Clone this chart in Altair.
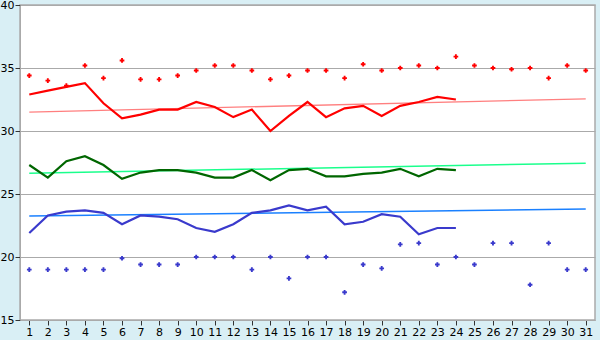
import altair as alt
import pandas as pd

days = list(range(1, 32))
red_points = [34.4, 34.0, 33.6, 35.2, 34.2, 35.6, 34.1, 34.1, 34.4, 34.8,
              35.2, 35.2, 34.8, 34.1, 34.4, 34.8, 34.8, 34.2, 35.3, 34.8,
              35.0, 35.2, 35.0, 35.9, 35.2, 35.0, 34.9, 35.0, 34.2, 35.2, 34.8]
red_line = [32.9, 33.2, 33.5, 33.8, 32.2, 31.0, 31.3, 31.7, 31.7, 32.3,
            31.9, 31.1, 31.7, 30.0, 31.2, 32.3, 31.1, 31.8, 32.0, 31.2,
            32.0, 32.3, 32.7, 32.5]
green_line = [27.3, 26.3, 27.6, 28.0, 27.3, 26.2, 26.7, 26.9, 26.9, 26.7,
              26.3, 26.3, 26.9, 26.1, 26.9, 27.0, 26.4, 26.4, 26.6, 26.7,
              27.0, 26.4, 27.0, 26.9]
blue_line = [21.9, 23.3, 23.6, 23.7, 23.5, 22.6, 23.3, 23.2, 23.0, 22.3,
             22.0, 22.6, 23.5, 23.7, 24.1, 23.7, 24.0, 22.6, 22.8, 23.4,
             23.2, 21.8, 22.3, 22.3]
blue_points = [19.0, 19.0, 19.0, 19.0, 19.0, 19.9, 19.4, 19.4, 19.4, 20.0,
               20.0, 20.0, 19.0, 20.0, 18.3, 20.0, 20.0, 17.2, 19.4, 19.1,
               21.0, 21.1, 19.4, 20.0, 19.4, 21.1, 21.1, 17.8, 21.1, 19.0, 19.0]
trend_days = [1, 31]
red_trend = [31.5, 32.55]
green_trend = [26.65, 27.45]
blue_trend = [23.25, 23.8]

df_rp = pd.DataFrame({"day": days, "v": red_points})
df_bp = pd.DataFrame({"day": days, "v": blue_points})
df_rl = pd.DataFrame({"day": days[:len(red_line)], "v": red_line})
df_gl = pd.DataFrame({"day": days[:len(green_line)], "v": green_line})
df_bl = pd.DataFrame({"day": days[:len(blue_line)], "v": blue_line})
df_rt = pd.DataFrame({"day": trend_days, "v": red_trend})
df_gt = pd.DataFrame({"day": trend_days, "v": green_trend})
df_bt = pd.DataFrame({"day": trend_days, "v": blue_trend})

x = alt.X("day:Q", scale=alt.Scale(domain=[0.5, 31.5], nice=False, zero=False),
          axis=alt.Axis(values=days, grid=False, title=None, labelFontSize=11,
                        labelFont="DejaVu Sans", labelColor="black",
                        tickColor="#333", tickSize=5, domainColor="#aaaaaa",
                        labelPadding=1, labelFlush=False, labelOverlap=False))
y = alt.Y("v:Q", scale=alt.Scale(domain=[15, 40], nice=False, zero=False),
          axis=alt.Axis(values=[15, 20, 25, 30, 35, 40], grid=True, gridColor="#aaaaaa",
                        title=None, labelFontSize=11, labelFont="DejaVu Sans",
                        labelColor="black", tickColor="#333", tickSize=5,
                        domainColor="#aaaaaa", labelPadding=1))

def line(df, color, w):
    return alt.Chart(df).mark_line(color=color, strokeWidth=w).encode(x=x, y=y)

def pts(df, color):
    return alt.Chart(df).mark_point(color=color, shape="cross", filled=True,
                                    size=22, opacity=1).encode(x=x, y=y)

chart = alt.layer(
    line(df_rt, "#ff7f7f", 1.3),
    line(df_gt, "#1aff8c", 1.5),
    line(df_bt, "#1a80ff", 1.5),
    line(df_rl, "#ff0000", 2.2),
    line(df_gl, "#006600", 2.2),
    line(df_bl, "#3a3acc", 2.2),
    pts(df_rp, "#ff0000"),
    pts(df_bp, "#3a3acc"),
).properties(
    width=575, height=315,
    autosize=alt.AutoSizeParams(type="none"),
    padding={"left": 20, "top": 5, "right": 5, "bottom": 20},
    background="#d9eff5",
).configure_view(fill="white", stroke="#aaaaaa", strokeWidth=1.5)

chart.save("out.html", embed_options={"renderer": "svg", "actions": False})
